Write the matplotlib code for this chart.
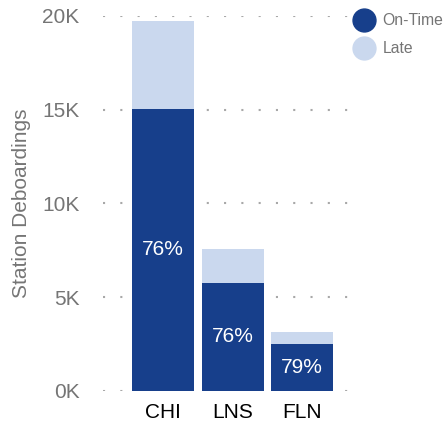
import matplotlib
matplotlib.use("Agg")
import matplotlib.pyplot as plt
from matplotlib.lines import Line2D
import numpy as np

stations = ["CHI", "LNS", "FLN"]
on_time = [15050, 5760, 2480]
late = [4700, 1810, 660]
pct_labels = ["76%", "76%", "79%"]
yticks = [0, 5000, 10000, 15000, 20000]
ytick_labels = ["0K", "5K", "10K", "15K", "20K"]

dark = "#173F8B"
light = "#CAD8EE"
gray = "#757575"

plt.rcParams["font.family"] = ["Liberation Sans", "DejaVu Sans"]

fig = plt.figure(figsize=(4.47, 4.25), dpi=100)
ax = fig.add_axes([0.2304, 0.08, 0.5593, 0.8824])

x = np.arange(len(stations))
w = 0.89
ax.bar(x, on_time, width=w, color=dark, zorder=2, label="On-Time")
ax.bar(x, late, bottom=on_time, width=w, color=light, zorder=2, label="Late")

for xi, v, t in zip(x, on_time, pct_labels):
    ax.text(xi, v / 2, t, ha="center", va="center", color="white", fontsize=15, zorder=3)

ax.set_xlim(-0.865, 2.73)
ax.set_ylim(0, 20000)
ax.set_yticks(yticks)
ax.set_yticklabels(ytick_labels)
ax.set_xticks(x)
ax.set_xticklabels(stations)
ax.tick_params(axis="y", length=0, pad=17, labelsize=15, labelcolor=gray)
ax.tick_params(axis="x", length=0, pad=9, labelsize=15, labelcolor="black")
ax.grid(axis="y", linestyle=(0, (1, 7.3)), color="#a8a8a8", linewidth=1.5, zorder=0)
for s in ax.spines.values():
    s.set_visible(False)
ax.set_ylabel("Station Deboardings", fontsize=15, color=gray, labelpad=8)

handles = [
    Line2D([], [], marker="o", linestyle="none", markersize=16.5, color=dark),
    Line2D([], [], marker="o", linestyle="none", markersize=16.5, color=light),
]
fig.legend(handles, ["On-Time", "Late"], loc="upper left",
           bbox_to_anchor=(0.768, 0.995), frameon=False, fontsize=11.3,
           labelcolor=gray, handletextpad=0.5, labelspacing=0.85,
           handlelength=1.3, borderaxespad=0.3)

fig.savefig("out.png", dpi=100)
